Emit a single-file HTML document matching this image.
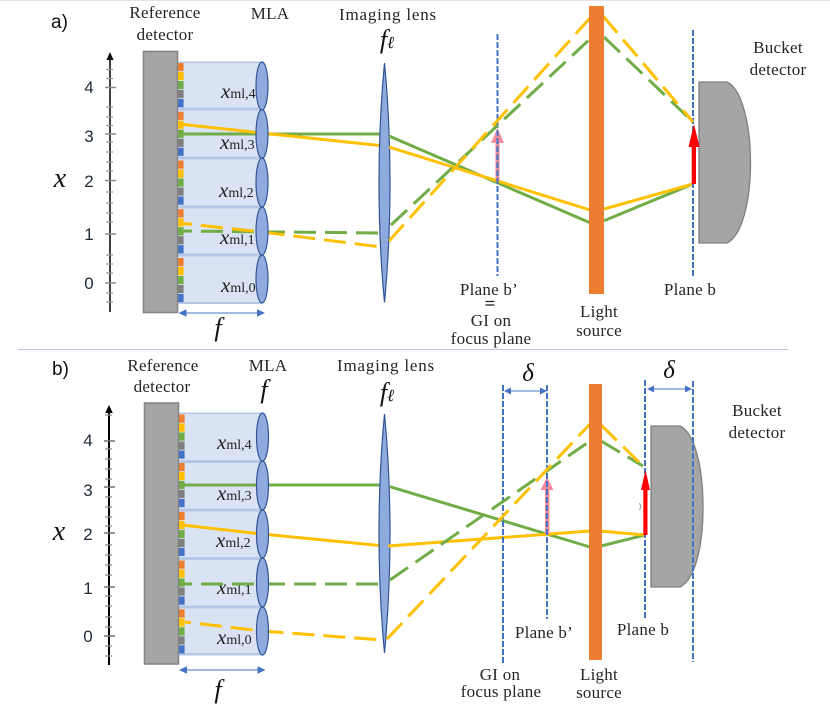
<!DOCTYPE html>
<html>
<head>
<meta charset="utf-8">
<style>
html,body{margin:0;padding:0;background:#fff;width:830px;height:706px;overflow:hidden}
svg{display:block}
.t{font-family:"Liberation Serif",serif;font-size:17px;fill:#262626;text-anchor:middle;letter-spacing:.25px}
.w{letter-spacing:.8px}
.n{font-family:"Liberation Sans",sans-serif;font-size:17px;fill:#1f2a3a;text-anchor:middle}
.p{font-family:"Liberation Sans",sans-serif;font-size:19px;fill:#111}
.m{font-family:"Liberation Serif",serif;font-style:italic;fill:#111;text-anchor:middle}
.l{font-family:"Liberation Serif",serif;font-size:14px;fill:#222}
.l tspan{font-style:italic;font-size:21px}
.g{stroke:#70ad47;stroke-width:3;fill:none}
.y{stroke:#ffc000;stroke-width:3;fill:none}
.gd{stroke:#70ad47;stroke-width:3;fill:none;stroke-dasharray:22 9}
.yd{stroke:#ffc000;stroke-width:3;fill:none;stroke-dasharray:22 9}
.pl{stroke:#4472c4;stroke-width:2;fill:none;stroke-dasharray:6 2}
.lens{fill:#8faadc;stroke:#2f5597;stroke-width:1.2}
.det{fill:#a5a5a5;stroke:#858585;stroke-width:1.6}
.bar{fill:#b4c7e7}
.dim{stroke:#6d8fd0;stroke-width:1.3;fill:none}
.hd{fill:#4472c4}
</style>
</head>
<body>
<svg width="830" height="706" viewBox="0 0 830 706" xmlns="http://www.w3.org/2000/svg">
<defs>
<g id="px">
<rect x="0" y="0" width="5.6" height="8.2" fill="#ed7d31"/>
<rect x="0" y="9" width="5.6" height="8.2" fill="#ffc000"/>
<rect x="0" y="18" width="5.6" height="8.2" fill="#70ad47"/>
<rect x="0" y="27" width="5.6" height="8.2" fill="#7f7f7f"/>
<rect x="0" y="36" width="5.6" height="8.2" fill="#4472c4"/>
</g>
</defs>
<rect x="0" y="0" width="830" height="1" fill="#e4e4e4"/>
<rect x="18" y="349" width="770" height="1" fill="#b9c4e2"/>

<!-- PANEL A -->
<text class="p" x="51" y="28">a)</text>
<text class="t" x="165" y="18">Reference</text>
<text class="t" x="165" y="40">detector</text>
<text class="t" x="270" y="19">MLA</text>
<text class="t w" x="388" y="20">Imaging lens</text>
<text class="m" x="387" y="48" font-size="26">f<tspan font-size="17">ℓ</tspan></text>
<text class="t" x="778" y="53">Bucket</text>
<text class="t" x="778" y="75">detector</text>

<path d="M110 312V58" stroke="#111" stroke-width="1.6"/>
<path d="M110 52l-3.600 8h7.200z" fill="#111"/>
<path d="M106 69.500h7M106 78.500h7M106 107h7M106 117h7M106 125.500h7M106 142h7M106 152h7M106 162h7M106 171h7M106 192h7M106 203h7M106 222h7M106 213h7M106 255h7M106 264h7M106 273h7M106 293h7M106 302h7" stroke="#9a9a9a" stroke-width="1.200"/>
<path d="M105 87.500h11M105 134h11M105 180.500h11M105 234h11M105 283h11" stroke="#8a8a8a" stroke-width="1.400"/>
<text class="n" x="89" y="93">4</text>
<text class="n" x="89" y="142">3</text>
<text class="n" x="89" y="187">2</text>
<text class="n" x="89" y="240">1</text>
<text class="n" x="89" y="289">0</text>
<text class="m" x="60" y="187" font-size="28">x</text>

<rect class="det" x="143.500" y="51.500" width="34" height="261"/>
<rect x="178" y="62" width="84" height="241" fill="#dae3f3"/>
<rect class="bar" x="178" y="61.500" width="84" height="1.500"/>
<rect class="bar" x="178" y="107.500" width="84" height="3"/>
<rect class="bar" x="178" y="156.500" width="84" height="3"/>
<rect class="bar" x="178" y="205.500" width="84" height="3"/>
<rect class="bar" x="178" y="253.500" width="84" height="3"/>
<rect class="bar" x="178" y="302" width="84" height="2"/>
<use href="#px" x="178" y="63"/>
<use href="#px" x="178" y="111.700"/>
<use href="#px" x="178" y="160.500"/>
<use href="#px" x="178" y="209.200"/>
<use href="#px" x="178" y="258"/>

<text class="l" x="221" y="98"><tspan>x</tspan>ml,4</text>
<text class="l" x="220" y="149"><tspan>x</tspan>ml,3</text>
<text class="l" x="219" y="197"><tspan>x</tspan>ml,2</text>
<text class="l" x="220" y="244"><tspan>x</tspan>ml,1</text>
<text class="l" x="221" y="292"><tspan>x</tspan>ml,0</text>

<path class="g" d="M179 134H384"/>
<path class="y" d="M179 124L262 133L384 146"/>
<path class="gd" stroke-dashoffset="9" style="stroke-dashoffset:9" d="M179 231L384 233"/>
<path class="yd" style="stroke-dashoffset:9" d="M179 223L262 232L381 247"/>

<ellipse class="lens" cx="262" cy="86" rx="6" ry="24"/>
<ellipse class="lens" cx="262" cy="134" rx="6" ry="24.500"/>
<ellipse class="lens" cx="262" cy="182.500" rx="6" ry="24.500"/>
<ellipse class="lens" cx="262" cy="231" rx="6" ry="24"/>
<ellipse class="lens" cx="262" cy="279" rx="6" ry="24"/>

<path class="dim" d="M184 313H260"/>
<path class="hd" d="M178.500 313l8-3.700v7.400zM265 313l-8-3.700v7.400z"/>
<text class="m" x="218" y="336" font-size="26">f</text>

<path class="lens" d="M384.500 63C388 100 390 140 390 183C390 226 388 266 384.500 302.500C381 266 379 226 379 183C379 140 381 100 384.500 63Z"/>
<path class="g" d="M389 136L590 222.700M604 220.700L693 184"/>
<path class="y" d="M389 147L590 210M604 209L693 184"/>
<path d="M499.500 181h-4V143h-4.500l6.500-15 6.500 15h-4.500V181z" fill="#f58b9b"/>
<path class="pl" d="M497.500 34V276M693 30V276"/>
<path class="gd" d="M391 225L590 39M604 37L693 122"/>
<path class="yd" d="M389 241L590 18M603 16L693 122"/>
<path class="det" style="stroke:#7f7f7f;stroke-width:1.300" d="M699 82H727C742 89 750.500 125 750.500 163C750.500 201 742 236 727 243H699Z"/>
<path d="M696 184H691.700V147H688.500L694 124L699.500 147H696Z" fill="#ff0000"/>
<rect x="589" y="6" width="15" height="288" fill="#ed7d31"/>

<text class="t" x="489" y="295">Plane b’</text>
<path d="M485.500 301.500h9M485.500 305h9" stroke="#222" stroke-width="1.200"/>
<text class="t" x="491" y="326">GI on</text>
<text class="t" x="491" y="344">focus plane</text>
<text class="t" x="599" y="317">Light</text>
<text class="t" x="599" y="336">source</text>
<text class="t" x="690" y="295">Plane b</text>

<!-- PANEL B -->
<text class="p" x="52" y="375">b)</text>
<text class="t" x="163" y="371">Reference</text>
<text class="t" x="162" y="392">detector</text>
<text class="t" x="268" y="371">MLA</text>
<text class="m" x="264" y="398" font-size="26">f</text>
<text class="t w" x="386" y="371">Imaging lens</text>
<text class="m" x="387" y="401" font-size="26">f<tspan font-size="17">ℓ</tspan></text>
<text class="m" x="528" y="381" font-size="25">δ</text>
<text class="m" x="669" y="378" font-size="25">δ</text>
<text class="t" x="757" y="416">Bucket</text>
<text class="t" x="757" y="438">detector</text>

<path d="M109 665V411" stroke="#000" stroke-width="2"/>
<path d="M109 405l-3.800 8h7.600z" fill="#000"/>
<path d="M105 415h7M105 449h7M105 459h7M105 469h7M105 479h7M105 497h7M105 507h7M105 517h7M105 526h7M105 545h7M105 555h7M105 565h7M105 575h7M105 596h7M105 606h7M105 617h7M105 627h7M105 646h7M105 656h7" stroke="#8f8f8f" stroke-width="1.200"/>
<path d="M104 441h11M104 487h11M104 533h11M104 587h11M104 636h11" stroke="#777" stroke-width="1.400"/>
<text class="n" x="88" y="446">4</text>
<text class="n" x="88" y="496">3</text>
<text class="n" x="88" y="540">2</text>
<text class="n" x="88" y="594">1</text>
<text class="n" x="88" y="642">0</text>
<text class="m" x="59" y="540" font-size="28">x</text>

<rect class="det" x="144.500" y="403" width="34" height="261"/>
<rect x="179" y="413" width="83" height="242" fill="#dae3f3"/>
<rect class="bar" x="179" y="412.500" width="83" height="1.500"/>
<rect class="bar" x="179" y="460" width="83" height="3"/>
<rect class="bar" x="179" y="508.500" width="83" height="3"/>
<rect class="bar" x="179" y="557" width="83" height="3"/>
<rect class="bar" x="179" y="605.500" width="83" height="3"/>
<rect class="bar" x="179" y="653" width="83" height="2.500"/>
<use href="#px" x="179" y="414.500"/>
<use href="#px" x="179" y="463"/>
<use href="#px" x="179" y="511.800"/>
<use href="#px" x="179" y="560.500"/>
<use href="#px" x="179" y="609.300"/>

<text class="l" x="217" y="449"><tspan>x</tspan>ml,4</text>
<text class="l" x="217" y="500"><tspan>x</tspan>ml,3</text>
<text class="l" x="216" y="547"><tspan>x</tspan>ml,2</text>
<text class="l" x="217" y="594"><tspan>x</tspan>ml,1</text>
<text class="l" x="217" y="644"><tspan>x</tspan>ml,0</text>

<path class="g" d="M182 485H384"/>
<path class="y" d="M182 525L262 534L384 546"/>
<path class="gd" style="stroke-dashoffset:14" d="M184 584H384"/>
<path class="yd" style="stroke-dashoffset:16" d="M185 622L262 631L383 640"/>

<ellipse class="lens" cx="262.500" cy="437" rx="6" ry="24"/>
<ellipse class="lens" cx="262.500" cy="485.500" rx="6" ry="24.500"/>
<ellipse class="lens" cx="262.500" cy="534" rx="6" ry="24"/>
<ellipse class="lens" cx="262.500" cy="582.500" rx="6" ry="24.500"/>
<ellipse class="lens" cx="262.500" cy="631" rx="6" ry="24"/>

<path class="dim" d="M185 670H260"/>
<path class="hd" d="M179 670l8-3.700v7.400zM265.500 670l-8-3.700v7.400z"/>
<text class="m" x="218" y="698" font-size="26">f</text>

<path class="lens" d="M384.500 414C388 451 390 491 390 533.500C390 576 388 616 384.500 653C381 616 379 576 379 533.500C379 491 381 451 384.500 414Z"/>
<path class="det" style="stroke:#7f7f7f;stroke-width:1.300" d="M651 426H680C695 433 703 468 703 507C703 546 695 580 680 587H651Z"/>
<path class="g" d="M390 486.700L590 547M601 546L645 535"/>
<path class="y" d="M388 546L590 531M600 531L645 535"/>
<path d="M549.500 534h-4.500V490h-4.500l6.500-13 6.500 13h-4V534z" fill="#f58b9b"/>
<path class="pl" d="M503 385V665M547 385V619M645 380V620M693 381V662"/>
<path class="gd" d="M390 580L590 441M601 441L643 466"/>
<path class="yd" d="M387 639L590 424M601 425L643 466"/>
<path d="M647.500 535H643.300V490H641L645.500 470L650 490H647.500Z" fill="#ff0000"/>
<rect x="589" y="384" width="13" height="276" fill="#ed7d31"/>
<path d="M639.500 503q2 3.500 0 7" stroke="#999" stroke-width="1" fill="none"/>

<path class="dim" d="M509 391H542M653 389H687"/>
<path class="hd" d="M504 391l7-3.500v7zM547 391l-7-3.500v7zM647 389l7-3.500v7zM692 389l-7-3.500v7z"/>

<text class="t" x="544" y="638">Plane b’</text>
<text class="t" x="643" y="635">Plane b</text>
<text class="t" x="500" y="680">GI on</text>
<text class="t" x="501" y="697">focus plane</text>
<text class="t" x="599" y="680">Light</text>
<text class="t" x="599" y="698">source</text>
</svg>
</body>
</html>
